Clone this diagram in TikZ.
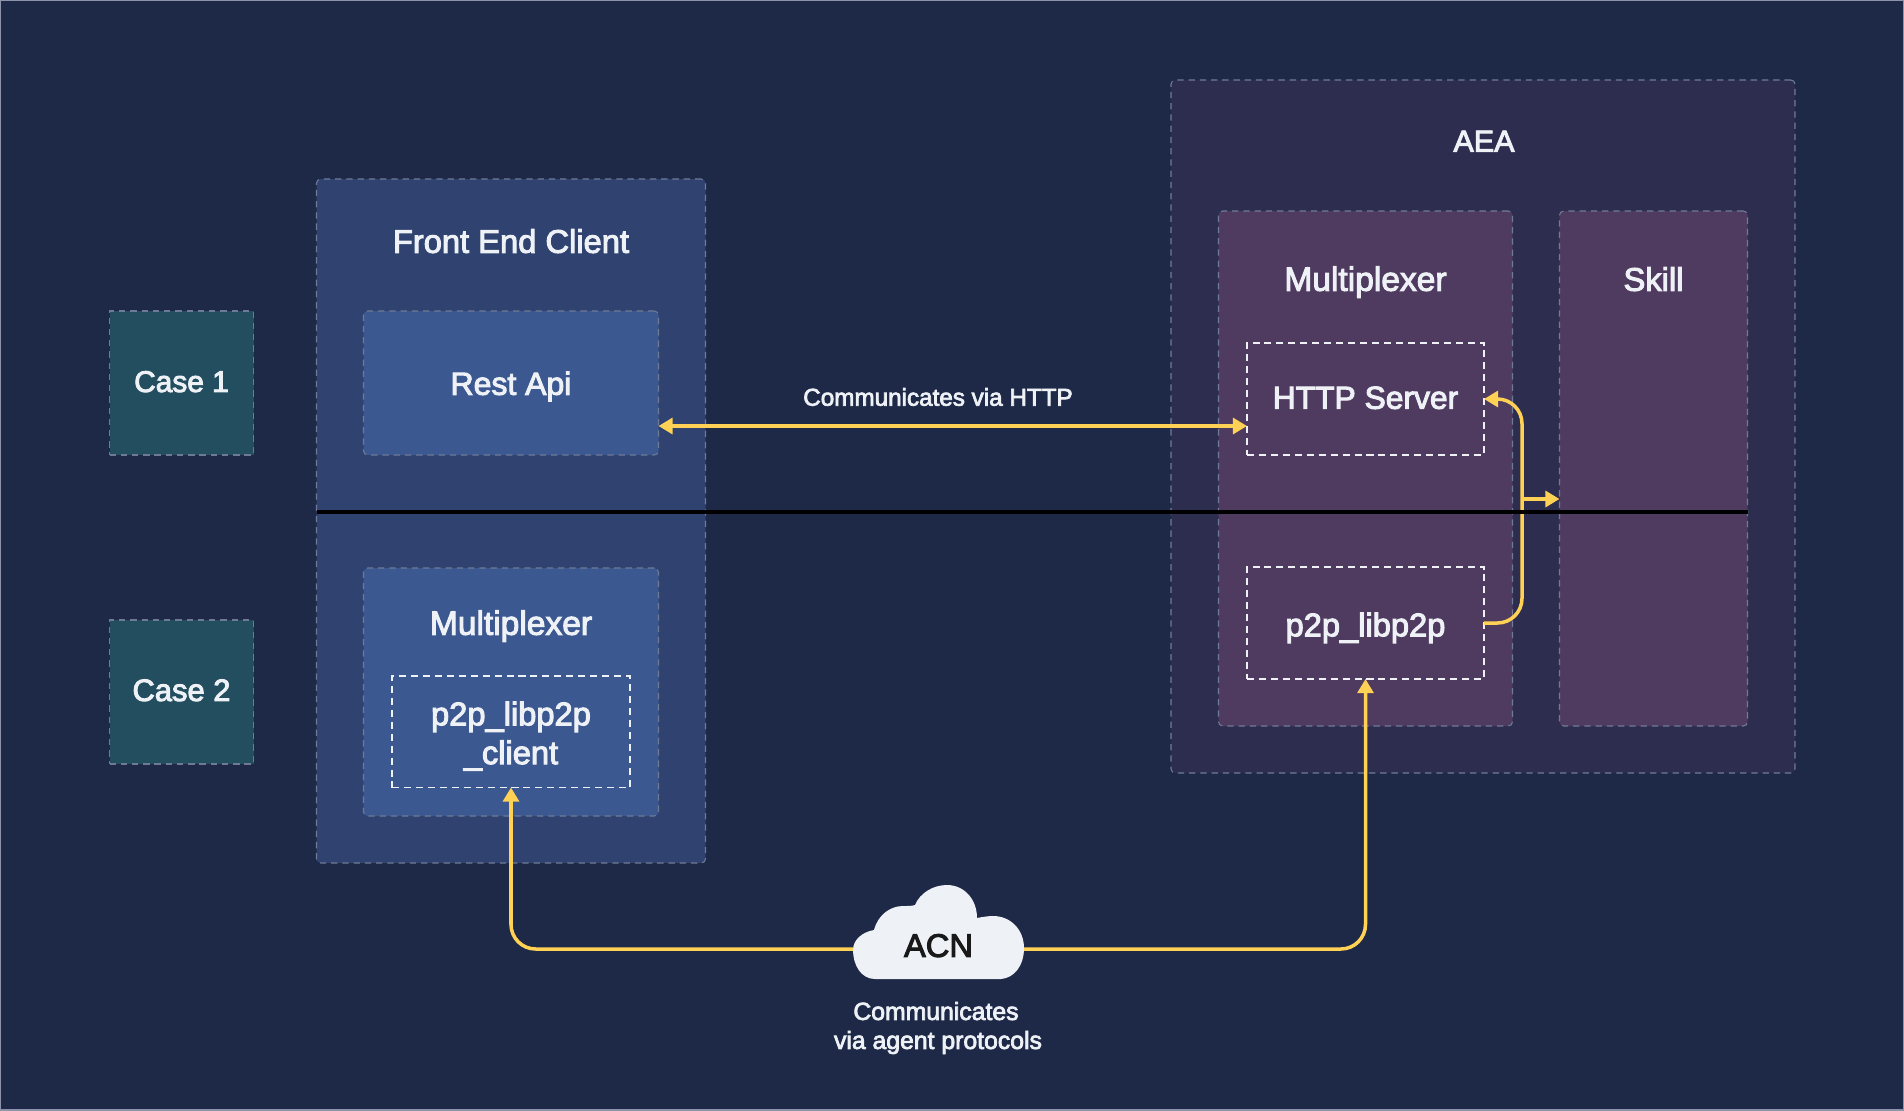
\documentclass[tikz,border=0pt]{standalone}
\usepackage{fontspec}
\setmainfont{Liberation Sans}
\newfontfamily\medfont[FakeBold=3]{Liberation Sans}
\usetikzlibrary{arrows.meta, calc}
\definecolor{pagebg}{HTML}{1E2847}
\definecolor{frontbg}{HTML}{2F4270}
\definecolor{apibg}{HTML}{3C5890}
\definecolor{casebg}{HTML}{234E60}
\definecolor{aeabg}{HTML}{2D2E4F}
\definecolor{muxbg}{HTML}{503B60}
\definecolor{edgegrey}{HTML}{6F7B96}
\definecolor{framegrey}{HTML}{8C93AB}
\definecolor{linkyellow}{HTML}{FFD155}
\definecolor{paper}{HTML}{EEF2F6}
\newcommand{\fontat}[1]{\fontsize{#1}{22}\medfont}

\begin{document}
\begin{tikzpicture}[x=0.02cm, y=-0.02cm,
  size/.style 2 args={minimum width=#1*0.02cm, minimum height=#2*0.02cm},
  box/.style={draw=edgegrey, dash pattern=on 3.6pt off 2.8pt, line width=0.6pt,
              rounded corners=2.4pt, outer sep=0pt, inner sep=0pt, align=center,
              text=paper, text height=13.4pt, text depth=0pt, font=\fontat{18.6}},
  casebox/.style={box, fill=casebg, rounded corners=0pt, size={144}{144}, text depth=3.2pt,
              font=\fontat{17.6}},
  slot/.style={draw=paper, dash pattern=on 4pt off 2.8pt, line width=0.6pt,
               outer sep=0pt, inner sep=0pt, align=center, text=paper,
               font=\fontsize{18.6}{22.1}\medfont},
  title/.style={text=paper, text height=13.4pt, text depth=0pt, font=\fontat{18.6}},
  note/.style={text=paper, align=center, font=\fontsize{13.8}{16.5}\medfont},
  link/.style={draw=linkyellow, line width=2pt},
  tip/.style={-{Triangle[length=8pt, width=9pt]}}]
  \useasboundingbox (0,0) rectangle (1904,1110);
  \fill[pagebg] (0,0) rectangle (1904,1110);
  \draw[framegrey, line width=0.8pt] (0,0) rectangle (1904,1110);
  % outer boxes first
  \node[box, fill=frontbg, size={389}{684}] (front) at (511,521) {};
  \node[box, fill=aeabg, size={624}{693}] (aea) at (1483,426.5) {};
  \node[box, fill=muxbg, size={294}{515}] (muxright) at (1365.5,468.5) {};
  \node[box, fill=muxbg, size={188}{515}] (skill) at (1653.5,468.5) {};
  \node[casebox, font=\fontat{17}] (case1) at (181.5,383) {Case 1};
  \node[casebox] (case2) at (181.5,692) {Case 2};
  \node[box, fill=apibg, size={295}{144}, font=\fontat{18.2}] (rest) at (511,383) {Rest Api};
  \node[box, fill=apibg, size={295}{248}] (muxleft) at (511,692) {};
  % inner slots
  \node[slot, size={238}{111.5}] (client) at (511,731.75) {\rule{0pt}{18.4pt}p2p\_libp2p\\\_client};
  \node[slot, size={237}{112}, text height=13.4pt, text depth=2.3pt, font=\fontat{18.1}] (http) at (1365.5,399) {HTTP Server};
  \node[slot, size={237}{112}, text height=15.1pt, text depth=0pt] (libp2p) at (1365.5,623) {p2p\_libp2p};
  % box titles
  \node[title] (fronttitle) at (511,241) {Front End Client};
  \node[title, font=\fontat{17.4}] (aeatitle) at (1484,140) {AEA};
  \node[title, font=\fontat{19.1}] (muxrighttitle) at (1365.5,279) {Multiplexer};
  \node[title] (skilltitle) at (1653.5,279) {Skill};
  \node[title, font=\fontat{19.1}] (muxlefttitle) at (511,623) {Multiplexer};
  % cloud
  \fill[paper] (875,979) .. controls (861,979) and (853,965) .. (853,950)
    .. controls (853,940) and (862,932) .. (874,930)
    .. controls (878,915) and (890,906) .. (903,906)
    .. controls (908,906) and (912,906) .. (915,905)
    .. controls (920,893) and (933,885) .. (947,885)
    .. controls (964,885) and (977,899) .. (977,918)
    .. controls (982,917) and (988,916) .. (993,916)
    .. controls (1011,916) and (1024,930) .. (1024,948)
    .. controls (1024,966) and (1014,978) .. (1001,979) -- cycle;
  \node[outer sep=0pt, inner sep=0pt, size={171}{60}, text=black!90,
        font=\fontat{18.6}] (acn) at (938.5,949) {\raisebox{4pt}{ACN}};
  % connectors
  \coordinate (httpline) at (0,426);
  \coordinate (bus) at (1522,499);
  \coordinate (split) at (0,512);
  \draw[link, {Triangle[length=8pt, width=9pt]}-{Triangle[length=8pt, width=9pt]}]
    (rest.east |- httpline) -- (http.west |- httpline);
  \draw[link, tip, rounded corners=14pt] (libp2p.east) -- (bus |- libp2p.east)
    -- (bus |- http.east) -- (http.east);
  \draw[link, tip] (bus) -- (skill.west |- bus);
  \draw[link, tip, rounded corners=14pt] (acn.west) -| (client.south);
  \draw[link, tip, rounded corners=14pt] (acn.east) -| (libp2p.south);
  % divider between the two cases
  \draw[black, line width=2.2pt] (front.west |- split) -- (skill.east |- split);
  % labels
  \node[note] (httpnote) at (938,397) {Communicates via HTTP};
  \node[note, font=\fontsize{14.1}{16.5}\medfont] (acnnote) at (938,1028) {Communicates\hspace*{2.3pt}\\via agent protocols};
\end{tikzpicture}
\end{document}
